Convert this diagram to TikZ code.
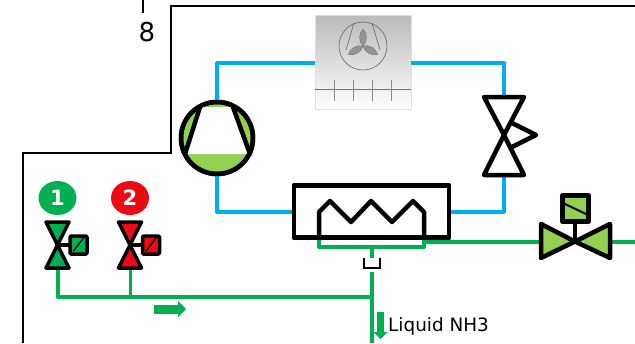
\documentclass[tikz,border=0pt]{standalone}
\usepackage{fontspec}
\setmainfont{DejaVu Sans}
\usetikzlibrary{arrows.meta,shapes.geometric}
\definecolor{pipeblue}{HTML}{00AEEF}
\definecolor{pipegreen}{HTML}{00B050}
\definecolor{fillgreen}{HTML}{92D050}
\definecolor{fillred}{HTML}{EE0A14}
\tikzset{
  bluepipe/.style={pipeblue,line width=4pt,line join=round},
  greenpipe/.style={pipegreen,line width=4pt,line join=round},
  part/.style={draw=black,line width=4.5pt,line join=round},
  smallpart/.style={draw=black,line width=3.5pt,line join=round},
  flow/.style={pipegreen,-{Triangle[length=8pt,width=16pt]}},
  badge/.style={ellipse,minimum width=38pt,minimum height=34pt,inner sep=0pt,text=white,font=\fontsize{21}{21}\selectfont\bfseries},
  solenoid/.style={smallpart,rounded corners=1pt,minimum width=17pt,minimum height=18pt,inner sep=0pt},
}
\begin{document}
\begin{tikzpicture}[x=1pt,y=-1pt]
\useasboundingbox (0,0) rectangle (635,343);
% panel outline
\coordinate (tick-top) at (143,0);
\coordinate (tick-end) at (143,13);
\coordinate (panel-a) at (635,6);
\coordinate (panel-b) at (171,153);
\coordinate (panel-c) at (23,343);
\draw[line width=1.7pt] (tick-top) -- (tick-end);
\draw[line width=1.7pt] (panel-a) -| (panel-b) -| (panel-c);
\node[font=\fontsize{26}{26}\selectfont,inner sep=0pt] (number) at (147,32) {8};
% equipment positions
\node[rectangle,top color=black!27,bottom color=white,draw=black!12,line width=0.7pt,minimum width=96pt,minimum height=94pt,inner sep=0pt] (condenser) at (363,62) {};
\node[part,circle,fill=fillgreen,minimum size=72pt,inner sep=0pt] (compressor) at (217,138) {};
\node[part,fill=white,minimum width=155pt,minimum height=52pt,inner sep=0pt] (exchanger) at (371.5,211.5) {};
\coordinate (exp-top) at (504,97);
\coordinate (exp-mid) at (504,135);
\coordinate (exp-bot) at (504,175);
\coordinate (valve-mid) at (575,241.5);
\coordinate (tee) at (372,297);
\coordinate (trap-in) at (372,258);
\coordinate (trap-out) at (372,272);
\coordinate (outlet) at (372,343);
\coordinate (right-end) at (635,241.5);
\coordinate (coil-left) at (319,247);
\coordinate (coil-right) at (424,247);
\coordinate (coil-mid) at (372,247);
\coordinate (line-one) at (57.5,297);
\coordinate (valve-one) at (57.5,245);
\coordinate (valve-two) at (130,245);
% pipes
\draw[bluepipe] (compressor.north) |- (condenser.west |- 0,63);
\draw[bluepipe] (condenser.east |- 0,63) -| (exp-top);
\draw[bluepipe] (compressor.south) |- (exchanger.west);
\draw[bluepipe] (exchanger.east) -| (exp-bot);
\draw[greenpipe] (319,236) -- (coil-left) -- (coil-right) -- (424,236);
\draw[greenpipe] (424,241.5) -- (right-end);
\draw[greenpipe] (coil-mid) -- (trap-in);
\draw[greenpipe] (trap-out) -- (outlet);
\draw[greenpipe] (valve-one) -- (line-one) -- (tee);
\draw[pipegreen,line width=3pt] (valve-two) -- (130,297);
% repaint exchanger over the green legs
\node[part,minimum width=155pt,minimum height=52pt,inner sep=0pt] (exchanger-top) at (exchanger) {};
\draw[line width=4.5pt,line join=round] (319,237) -- (319,212) -- (330,201) -- (351,222) -- (371,201) -- (392,222) -- (413,201) -- (424,212) -- (424,237);
% condenser fan
\draw[black!55,line width=0.7pt] (363,46) circle (24);
\draw[black!55,line width=0.7pt] (354,23) -- (346,50) (372,23) -- (380,50);
\foreach \ang in {90,210,330}
  \draw[black!55,fill=black!42,line width=0.4pt,rotate around={\ang:(363,46)}] (363,46) .. controls (367,41.5) and (376,41.5) .. (380,46) .. controls (376,50.5) and (367,50.5) .. (363,46);
\draw[black!55,line width=0.8pt] (condenser.west |- 0,89) -- (condenser.east |- 0,89);
\foreach \xs in {334,353,372,391}
  \draw[black!45,line width=0.6pt] (\xs,80) -- (\xs,101);
% compressor
\fill[white] (200,107) -- (233,107) -- (250,154) -- (185,154) -- cycle;
\draw[line width=4.5pt,line cap=round] (200,107) -- (185,154) (233,107) -- (250,154);
\node[part,circle,minimum size=72pt,inner sep=0pt] (compressor-ring) at (compressor) {};
% expansion valve
\draw[part,fill=white] (484,97) -- (524,97) -- (exp-mid) -- cycle;
\draw[part,fill=white] (484,175) -- (524,175) -- (exp-mid) -- cycle;
\draw[part] (512,123) -- (536,135) -- (512,147);
% main valve
\draw[part] (valve-mid) -- (575,222);
\draw[part,fill=fillgreen] (541,224) -- (541,258) -- (valve-mid) -- cycle;
\draw[part,fill=fillgreen] (610,224) -- (610,258) -- (valve-mid) -- cycle;
\node[part,fill=fillgreen,minimum width=26pt,minimum height=26pt,inner sep=0pt] (valve-box) at (575.5,208.5) {};
\draw[line width=2pt] (563,203) -- (588,215);
% small valves
\foreach \xv/\cola/\nam/\txt in {57.5/pipegreen/one/1,130/fillred/two/2} {
  \node[badge,fill=\cola] (badge-\nam) at (\xv,198) {\txt};
  \draw[smallpart] (valve-\nam) -- ++(12,0);
  \draw[smallpart,fill=\cola] (\xv-11.5,222) -- (\xv+11.5,222) -- (valve-\nam) -- cycle;
  \draw[smallpart,fill=\cola] (\xv-11.5,268) -- (\xv+11.5,268) -- (valve-\nam) -- cycle;
  \node[solenoid,fill=\cola] (box-\nam) at (\xv+21,245) {};
  \draw[line width=1.2pt] (\xv+16,251) -- (\xv+26,238);
}
% trap
\draw[line width=1.5pt] (364,258) -- (364,268) -- (380,268) -- (380,258);
% flow arrows
\coordinate (flow-a) at (154,309);
\coordinate (flow-b) at (186,309);
\coordinate (flow-c) at (380.5,312);
\coordinate (flow-d) at (380.5,339);
\draw[flow,line width=9pt] (flow-a) -- (flow-b);
\draw[flow,line width=7pt,-{Triangle[length=7pt,width=14pt]}] (flow-c) -- (flow-d);
\node[anchor=base west,inner sep=0pt,font=\fontsize{18.4}{18.4}\selectfont] (liquid) at (388,331) {Liquid NH3};
\end{tikzpicture}
\end{document}
